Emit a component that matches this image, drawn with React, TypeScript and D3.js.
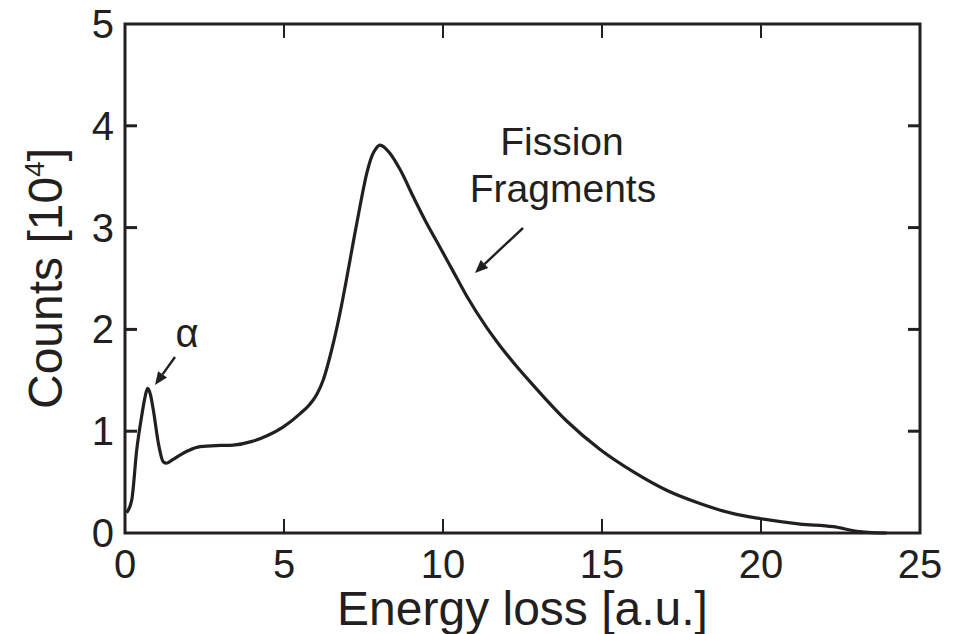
import React from "react";
import * as d3 from "d3";

const energy = [0.05, 0.21, 0.37, 0.52, 0.62, 0.71, 0.8, 0.89, 1.05, 1.2, 1.31, 1.5, 1.73, 2.0, 2.36, 3.0, 3.4, 4.0, 4.5, 4.97, 5.5, 5.8, 6.03, 6.23, 6.5, 6.76, 6.97, 7.18, 7.39, 7.6, 7.76, 7.9, 8.02, 8.15, 8.33, 8.65, 9.07, 9.49, 9.9, 10.32, 10.74, 11.37, 11.79, 12.2, 12.84, 13.89, 14.94, 15.99, 17.03, 18.08, 19.13, 20.0, 21.23, 22.27, 23.1, 23.5, 23.95];
const counts = [0.2, 0.32, 0.82, 1.14, 1.32, 1.42, 1.36, 1.21, 0.88, 0.7, 0.685, 0.72, 0.766, 0.81, 0.848, 0.86, 0.864, 0.9, 0.96, 1.04, 1.17, 1.26, 1.36, 1.5, 1.8, 2.16, 2.5, 2.86, 3.21, 3.53, 3.7, 3.78, 3.81, 3.79, 3.73, 3.57, 3.3, 3.04, 2.81, 2.57, 2.33, 2.02, 1.84, 1.68, 1.45, 1.1, 0.82, 0.6, 0.42, 0.29, 0.19, 0.14, 0.088, 0.062, 0.013, 0.004, 0.0];

const xTicks = [0, 5, 10, 15, 20, 25];
const yTicks = [0, 1, 2, 3, 4, 5];
const xLabel = "Energy loss [a.u.]";
const yLabel = "Counts [10";
const yLabelSup = "4";
const alphaLabel = "α";
const fissionLabel = ["Fission", "Fragments"];

const INK = "#231f20";
const FONT = "'Liberation Sans', Arial, Helvetica, sans-serif";

export default function App() {
  const W = 967, H = 634;
  const left = 125, right = 920, top = 24, bottom = 533;
  const x = d3.scaleLinear().domain([0, 25]).range([left, right]);
  const y = d3.scaleLinear().domain([0, 5]).range([bottom, top]);
  const pts: [number, number][] = energy.map((e, i) => [e, counts[i]]);
  const line = d3.line<[number, number]>().x(d => x(d[0])).y(d => y(d[1])).curve(d3.curveMonotoneX);

  const arrow = (x1: number, y1: number, x2: number, y2: number) => {
    const ang = Math.atan2(y2 - y1, x2 - x1);
    const L = 13, Wd = 5.5;
    const bx = x2 - L * Math.cos(ang), by = y2 - L * Math.sin(ang);
    const px = -Math.sin(ang) * Wd, py = Math.cos(ang) * Wd;
    return (
      <g>
        <line x1={x1} y1={y1} x2={bx} y2={by} stroke={INK} strokeWidth={2.4} />
        <path d={`M${x2},${y2}L${bx + px},${by + py}L${bx - px},${by - py}Z`} fill={INK} />
      </g>
    );
  };

  return (
    <svg width={W} height={H} style={{ position: "absolute", left: 0, top: 0, background: "#fff" }} fontFamily={FONT}>
      <rect x={0} y={0} width={W} height={H} fill="#fff" />
      {xTicks.slice(1, -1).map(t => (
        <g key={"xt" + t}>
          <line x1={x(t)} x2={x(t)} y1={bottom} y2={bottom - 14} stroke={INK} strokeWidth={2} />
          <line x1={x(t)} x2={x(t)} y1={top} y2={top + 14} stroke={INK} strokeWidth={2} />
        </g>
      ))}
      {yTicks.slice(1, -1).map(t => (
        <g key={"yt" + t}>
          <line x1={left} x2={left + 12} y1={y(t)} y2={y(t)} stroke={INK} strokeWidth={3} />
          <line x1={right} x2={right - 12} y1={y(t)} y2={y(t)} stroke={INK} strokeWidth={3} />
        </g>
      ))}
      <rect x={left} y={top} width={right - left} height={bottom - top} fill="none" stroke={INK} strokeWidth={3} />
      {xTicks.map(t => (
        <text key={"xl" + t} x={x(t)} y={578} textAnchor="middle" fontSize={40} fill={INK}>{t}</text>
      ))}
      {yTicks.map(t => (
        <text key={"yl" + t} x={114} y={y(t) + 14} textAnchor="end" fontSize={40} fill={INK}>{t}</text>
      ))}
      <text x={(left + right) / 2} y={625} textAnchor="middle" fontSize={48} fill={INK}>{xLabel}</text>
      <text transform={`translate(62,${(top + bottom) / 2}) rotate(-90)`} textAnchor="middle" fontSize={48} fill={INK}>
        {yLabel}
        <tspan fontSize={28} dy={-18}>{yLabelSup}</tspan>
        <tspan dy={18}>]</tspan>
      </text>
      <path d={line(pts) || ""} fill="none" stroke={INK} strokeWidth={3.2} strokeLinejoin="round" />
      <text x={187} y={347} textAnchor="middle" fontSize={40} fill={INK}>{alphaLabel}</text>
      {arrow(175, 357, 155, 385)}
      <text x={562} y={155} textAnchor="middle" fontSize={39} fill={INK}>{fissionLabel[0]}</text>
      <text x={563} y={202} textAnchor="middle" fontSize={39} fill={INK}>{fissionLabel[1]}</text>
      {arrow(523, 228, 475, 273)}
    </svg>
  );
}
